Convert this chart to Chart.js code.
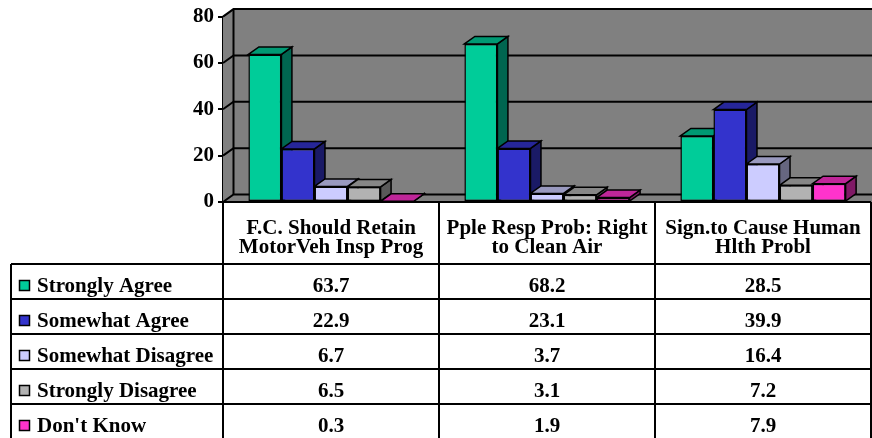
<!DOCTYPE html>
<html>
<head>
<meta charset="utf-8">
<script src="https://cdn.jsdelivr.net/npm/chart.js@4/dist/chart.umd.min.js"></script>
<style>
  html, body { margin: 0; padding: 0; background: #ffffff; }
  #wrap { width: 872px; height: 438px; position: relative; }
</style>
</head>
<body>
<div id="wrap"><canvas id="c" width="872" height="438"></canvas></div>
<script>
// Survey questions (x categories, two-line headers)
const categories = [
  ['F.C. Should Retain', 'MotorVeh Insp Prog'],
  ['Pple Resp Prob: Right', 'to Clean Air'],
  ['Sign.to Cause Human', 'Hlth Probl']
];

// Response shares, in percent
const seriesNames = ['Strongly Agree', 'Somewhat Agree', 'Somewhat Disagree', 'Strongly Disagree', "Don't Know"];
const stronglyAgree    = [63.7, 68.2, 28.5];
const somewhatAgree    = [22.9, 23.1, 39.9];
const somewhatDisagree = [6.7, 3.7, 16.4];
const stronglyDisagree = [6.5, 3.1, 7.2];
const dontKnow         = [0.3, 1.9, 7.9];

// Value axis ticks
const yTicks = [0, 20, 40, 60, 80];

// Face colours: front, top, side
const frontColors = ['#00CC99', '#3333CC', '#CCCCFF', '#B2B2B2', '#FF33CC'];
const topColors   = ['#009973', '#262699', '#9999BF', '#868686', '#BF2699'];
const sideColors  = ['#006650', '#1A1A66', '#666680', '#595959', '#801A66'];

const seriesValues = [stronglyAgree, somewhatAgree, somewhatDisagree, stronglyDisagree, dontKnow];

const FONT_FAMILY = '"Liberation Serif", "Times New Roman", serif';
const FONT = 'bold 21px ' + FONT_FAMILY;
const DX = 10.5, DY = -7.5;      // depth offset of the 3-D box
const HEADER_H = 62, ROW_H = 35;  // data table geometry
const TABLE_LEFT = 11;

function poly(ctx, pts, fill) {
  ctx.beginPath();
  ctx.moveTo(pts[0][0], pts[0][1]);
  for (let i = 1; i < pts.length; i++) ctx.lineTo(pts[i][0], pts[i][1]);
  ctx.closePath();
  ctx.fillStyle = fill;
  ctx.fill();
  ctx.stroke();
}

// Walls, floor, gridlines and the top/side faces of each bar
const box3d = {
  id: 'box3d',
  beforeDatasetsDraw(chart) {
    const { ctx, chartArea: a, scales: { y } } = chart;
    ctx.save();
    ctx.strokeStyle = '#000';
    ctx.lineWidth = 2;
    ctx.lineJoin = 'miter';
    // back wall
    ctx.fillStyle = '#808080';
    ctx.fillRect(a.left + DX, a.top + DY, a.right - a.left + 20, a.bottom - a.top);
    // side wall
    ctx.beginPath();
    ctx.moveTo(a.left, a.top); ctx.lineTo(a.left + DX, a.top + DY);
    ctx.lineTo(a.left + DX, a.bottom + DY); ctx.lineTo(a.left, a.bottom);
    ctx.closePath(); ctx.fill();
    // floor
    ctx.beginPath();
    ctx.moveTo(a.left, a.bottom); ctx.lineTo(a.left + DX, a.bottom + DY);
    ctx.lineTo(a.right + DX + 20, a.bottom + DY); ctx.lineTo(a.right + 20, a.bottom);
    ctx.closePath(); ctx.fill();
    // gridlines across the side wall and back wall
    yTicks.forEach(v => {
      const py = y.getPixelForValue(v);
      ctx.beginPath();
      ctx.moveTo(a.left, py);
      ctx.lineTo(a.left + DX, py + DY);
      ctx.lineTo(a.right + DX + 20, py + DY);
      ctx.stroke();
    });
    // back-left edge
    ctx.beginPath();
    ctx.moveTo(a.left + DX, a.top + DY);
    ctx.lineTo(a.left + DX, a.bottom + DY);
    ctx.stroke();

    // bar tops and sides, in series order within each category
    ctx.lineWidth = 1.5;
    for (let j = 0; j < categories.length; j++) {
      for (let i = 0; i < seriesValues.length; i++) {
        const bar = chart.getDatasetMeta(i).data[j];
        const p = bar.getProps(['x', 'y', 'base', 'width'], true);
        const l = p.x - p.width / 2, r = p.x + p.width / 2;
        poly(ctx, [[r, p.y], [r + DX, p.y + DY], [r + DX, p.base + DY], [r, p.base]], sideColors[i]);
        poly(ctx, [[l, p.y], [l + DX, p.y + DY], [r + DX, p.y + DY], [r, p.y]], topColors[i]);
      }
    }
    ctx.restore();
  },
  // data table under the plot
  afterDraw(chart) {
    const { ctx, chartArea: a, scales: { x } } = chart;
    const step = x.getPixelForValue(1) - x.getPixelForValue(0);
    const edges = [];
    for (let j = 0; j <= categories.length; j++) edges.push(x.getPixelForValue(0) - step / 2 + j * step);
    const headBottom = a.bottom + HEADER_H;
    const tableBottom = headBottom + ROW_H * seriesNames.length;
    ctx.save();
    ctx.strokeStyle = '#000';
    ctx.lineWidth = 2;
    ctx.beginPath();
    // header top
    ctx.moveTo(edges[0], a.bottom); ctx.lineTo(edges[edges.length - 1], a.bottom);
    // row lines
    for (let i = 0; i <= seriesNames.length; i++) {
      const yy = headBottom + i * ROW_H;
      ctx.moveTo(TABLE_LEFT, yy); ctx.lineTo(edges[edges.length - 1], yy);
    }
    // column lines
    edges.forEach(ex => { ctx.moveTo(ex, a.bottom); ctx.lineTo(ex, tableBottom); });
    ctx.moveTo(TABLE_LEFT, headBottom); ctx.lineTo(TABLE_LEFT, tableBottom);
    ctx.stroke();

    ctx.font = FONT;
    ctx.fillStyle = '#000';
    ctx.textBaseline = 'alphabetic';
    ctx.lineWidth = 1.5;
    seriesNames.forEach((name, i) => {
      const top = headBottom + i * ROW_H;
      // legend key
      ctx.fillStyle = frontColors[i];
      ctx.fillRect(19.5, top + 16.5, 10, 10);
      ctx.strokeRect(19.5, top + 16.5, 10, 10);
      ctx.fillStyle = '#000';
      ctx.textAlign = 'left';
      ctx.fillText(name, 37, top + 28);
      ctx.textAlign = 'center';
      seriesValues[i].forEach((v, j) => {
        ctx.fillText(v.toFixed(1), x.getPixelForValue(j), top + 28);
      });
    });
    ctx.restore();
  }
};

const datasets = seriesNames.map((name, i) => ({
  label: name,
  data: seriesValues[i],
  backgroundColor: frontColors[i],
  borderColor: '#000',
  borderWidth: 1.5,
  borderSkipped: false,
  categoryPercentage: 0.765,
  barPercentage: 1.0
}));

new Chart(document.getElementById('c'), {
  type: 'bar',
  data: { labels: categories, datasets },
  plugins: [box3d],
  options: {
    responsive: false,
    animation: false,
    layout: { padding: { top: 15, right: 1, left: 0, bottom: 0 } },
    plugins: { legend: { display: false }, tooltip: { enabled: false } },
    scales: {
      x: {
        grid: { display: false, drawTicks: false },
        border: { display: false },
        ticks: {
          color: '#000',
          font: { family: FONT_FAMILY, size: 21, weight: 'bold', lineHeight: 0.92 },
          padding: 17,
          maxRotation: 0,
          autoSkip: false
        },
        afterFit: s => { s.height = 236; s.paddingLeft = 0; s.paddingRight = 0; }
      },
      y: {
        min: 0,
        max: 80,
        afterBuildTicks: s => { s.ticks = yTicks.map(v => ({ value: v })); },
        grid: { drawOnChartArea: false, drawTicks: true, tickLength: 5, color: '#000', lineWidth: 2 },
        border: { display: true, color: '#000', width: 2 },
        ticks: {
          color: '#000',
          padding: 4,
          font: { family: FONT_FAMILY, size: 21, weight: 'bold' }
        },
        afterFit: s => { s.width = 223; }
      }
    }
  }
});
</script>
</body>
</html>
